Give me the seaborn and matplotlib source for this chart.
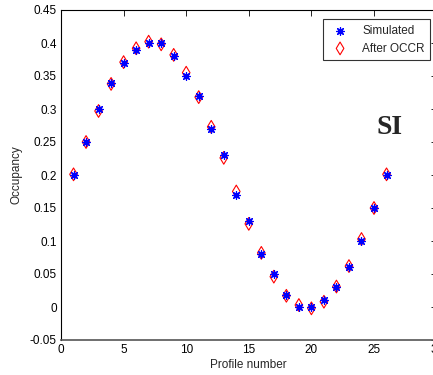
import matplotlib
matplotlib.use("Agg")
import matplotlib.pyplot as plt
import seaborn as sns
import pandas as pd

# Occupancy per profile
profiles = list(range(1, 27))
simulated = [0.200, 0.250, 0.300, 0.340, 0.370, 0.390, 0.400, 0.400, 0.380, 0.350,
             0.320, 0.270, 0.230, 0.170, 0.130, 0.080, 0.050, 0.018, 0.000, 0.000,
             0.010, 0.030, 0.060, 0.100, 0.150, 0.200]
after_occr = [0.201, 0.250, 0.297, 0.338, 0.371, 0.392, 0.402, 0.398, 0.382, 0.355,
              0.318, 0.273, 0.226, 0.175, 0.126, 0.082, 0.046, 0.017, 0.003, -0.002,
              0.008, 0.031, 0.062, 0.103, 0.150, 0.201]
x_ticks = [0, 5, 10, 15, 20, 25, 30]
y_ticks = [-0.05, 0, 0.05, 0.1, 0.15, 0.2, 0.25, 0.3, 0.35, 0.4, 0.45]
y_tick_labels = ["-0.05", "0", "0.05", "0.1", "0.15", "0.2", "0.25", "0.3", "0.35", "0.4", "0.45"]

df = pd.DataFrame({"profile": profiles, "simulated": simulated, "after": after_occr})

sns.set_style("white")
plt.rcParams["font.family"] = ["Liberation Sans", "DejaVu Sans"]

fig = plt.figure(figsize=(4.33, 3.75), dpi=100)
ax = fig.add_axes([61 / 433, 35 / 375, 375.6 / 433, 330 / 375])

sns.scatterplot(data=df, x="profile", y="after", ax=ax, marker="d", s=42,
                facecolors="none", edgecolors="red", linewidths=0.8,
                label="After OCCR", zorder=2)
sns.scatterplot(data=df, x="profile", y="simulated", ax=ax, marker=(8, 2, 0), s=30,
                color="blue", edgecolors="blue", linewidths=0.9,
                label="Simulated", zorder=3)

ax.set_xlim(0, 30)
ax.set_ylim(-0.05, 0.45)
ax.set_xticks(x_ticks)
ax.set_yticks(y_ticks)
ax.set_yticklabels(y_tick_labels)
ax.tick_params(direction="in", length=4, width=0.6, top=True, right=True,
               labelsize=8.5, pad=3, colors="black")
for side in ["left", "right", "top", "bottom"]:
    ax.spines[side].set_color("black")
    ax.spines[side].set_linewidth(0.8)
ax.spines["bottom"].set_color("#555555")
ax.spines["bottom"].set_linewidth(1.2)

ax.set_xlabel("Profile number", fontsize=8.5, labelpad=2)
ax.set_ylabel("Occupancy", fontsize=8.5, labelpad=5)

handles, labels = ax.get_legend_handles_labels()
order = [labels.index("Simulated"), labels.index("After OCCR")]
leg = ax.legend([handles[i] for i in order], [labels[i] for i in order],
                loc="upper right", bbox_to_anchor=(0.9895, 0.979),
                fontsize=8.5, frameon=True, fancybox=False, borderpad=0.45,
                handletextpad=0.9, labelspacing=0.5, borderaxespad=0.2,
                handlelength=2.0)
leg.get_frame().set_edgecolor("black")
leg.get_frame().set_linewidth(0.8)

ax.text(390 / 433, 1 - 128 / 375, "SI", transform=fig.transFigure,
        fontsize=20, fontweight="bold", family="Liberation Serif",
        ha="center", va="center")

fig.savefig("out.png", dpi=100)
